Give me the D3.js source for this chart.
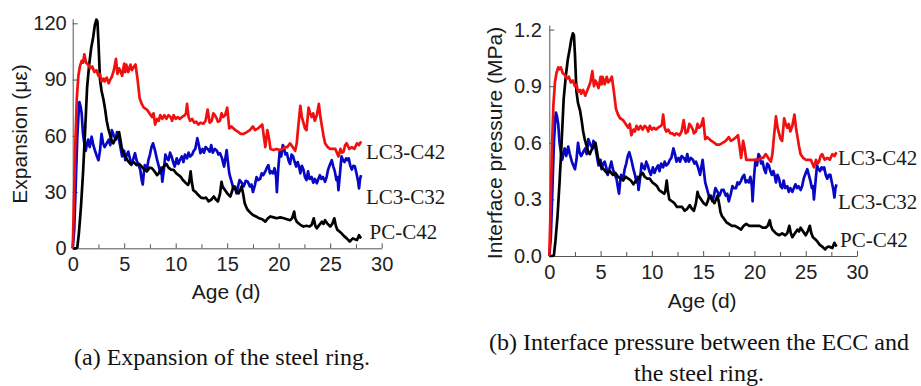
<!DOCTYPE html>
<html><head><meta charset="utf-8">
<script src="https://cdn.jsdelivr.net/npm/d3@7/dist/d3.min.js"></script>
<style>
html,body{margin:0;padding:0;background:#fff;}
svg{display:block;}
.tick text{font-family:"Liberation Sans",Arial,sans-serif;font-size:20px;fill:#222;}
.domain,.tick line{stroke:#555;stroke-width:1;}
</style></head>
<body>
<svg id="chart" width="921" height="386"></svg>
<script>
// ---------- DATA ----------
const seriesNames = ["LC3-C42", "LC3-C32", "PC-C42"];
const xTicks = [0, 5, 10, 15, 20, 25, 30];
const xMinorTicks = [2.5, 7.5, 12.5, 17.5, 22.5, 27.5];
const yTicksA = [0, 30, 60, 90, 120];
const yTickLabelsA = ["0", "30", "60", "90", "120"];
const yTicksB = [0, 0.3, 0.6, 0.9, 1.2];
const yTickLabelsB = ["0.0", "0.3", "0.6", "0.9", "1.2"];

// (a) expansion, [age (d), expansion (µε)]
const expLC3C42 = [[0,0],[0.1,20],[0.25,55],[0.4,80],[0.55,92],[0.7,97],[0.87,100],[1.0,99],[1.13,103.5],[1.3,99],[1.5,98],[1.7,96],[1.9,97],[2.1,94],[2.3,95],[2.5,92],[2.65,93],[2.8,89],[3.0,90.5],[3.1,89],[3.3,91],[3.5,88],[3.65,90],[3.8,91.5],[4.0,95],[4.2,101],[4.35,93],[4.5,96],[4.6,95],[4.8,92],[5.0,98.5],[5.1,94],[5.2,98],[5.4,94],[5.6,98],[5.75,95],[5.9,96.5],[6.1,98],[6.3,90],[6.5,80],[6.7,77],[6.9,75],[7.2,74],[7.45,72],[7.7,70],[7.85,72],[8.0,66],[8.2,69],[8.35,68],[8.5,71],[8.7,69],[8.9,71],[9.1,69],[9.3,71],[9.5,70],[9.65,68],[9.8,71],[10.0,69],[10.2,70],[10.4,69],[10.6,70],[10.9,71],[11.0,72],[11.1,77],[11.25,70],[11.4,68],[11.6,69],[11.8,67],[12.0,67.5],[12.2,66],[12.4,67],[12.7,66.5],[12.9,68],[13.1,74],[13.3,67],[13.5,68],[13.65,72],[13.8,71],[14.0,69],[14.1,67.5],[14.3,68],[14.45,72],[14.6,70],[14.8,71],[15.0,75],[15.2,64],[15.4,65],[15.6,64],[15.8,63],[16.1,62],[16.3,61],[16.6,61],[16.9,62],[17.2,63],[17.5,65],[17.7,63],[18.0,64],[18.2,65],[18.4,66],[18.5,62],[18.7,54],[18.9,63],[19.05,59],[19.2,53],[19.5,52.4],[19.8,53],[20.1,52.4],[20.4,53],[20.6,54],[20.85,54],[21.1,56],[21.35,54],[21.6,52],[21.75,56],[21.9,65],[22.1,76],[22.25,70],[22.4,67],[22.55,64],[22.7,63],[22.9,75],[23.05,72],[23.2,70],[23.35,72],[23.5,68],[23.7,71],[23.9,77],[24.05,70],[24.2,65],[24.35,60],[24.5,56],[24.75,54],[25.0,53],[25.25,53],[25.5,53],[25.65,51],[25.8,49],[26.0,53],[26.15,51],[26.3,51.5],[26.45,55],[26.6,56],[26.85,53],[27.1,54],[27.35,53],[27.6,56],[27.8,55],[28.0,57]];
const expLC3C32 = [[0,0],[0.15,10],[0.3,35],[0.45,60],[0.6,75],[0.65,78],[0.75,76],[0.87,72],[1.0,61],[1.1,57],[1.26,52],[1.4,56],[1.5,58],[1.65,54],[1.84,59.5],[2.0,55],[2.2,51.5],[2.35,49],[2.5,47],[2.65,52],[2.8,61],[2.95,56],[3.1,54],[3.3,56],[3.5,58],[3.65,55],[3.8,63],[4.0,60],[4.2,58],[4.3,62],[4.4,61],[4.6,55],[4.8,49],[5.0,52],[5.1,47],[5.25,50],[5.4,51.5],[5.55,48],[5.7,44.4],[5.9,48],[6.05,50.7],[6.2,47],[6.4,44.4],[6.55,42],[6.7,36.4],[6.8,34],[6.9,40],[7.0,44.4],[7.2,42],[7.35,47],[7.5,50],[7.65,54],[7.8,56],[8.0,52],[8.2,47],[8.35,44],[8.5,40],[8.6,43],[8.7,35.5],[8.85,42],[9.0,50],[9.15,48],[9.3,47],[9.45,51],[9.6,49],[9.75,46],[9.9,43.6],[10.1,48],[10.25,45],[10.4,47],[10.6,49],[10.75,46],[10.9,50],[11.1,48],[11.25,51],[11.4,49],[11.6,50],[11.75,52],[11.9,53],[12.1,58.7],[12.25,55],[12.4,50.7],[12.6,53],[12.75,51],[12.9,54],[13.1,53],[13.3,51.5],[13.45,55],[13.6,51],[13.8,53],[14.0,52],[14.15,50],[14.3,50.7],[14.5,48],[14.7,43.6],[14.85,49],[14.95,52.4],[15.05,47],[15.2,40],[15.4,36],[15.6,32],[15.75,33],[15.9,29.3],[16.05,33],[16.2,36.4],[16.4,35],[16.6,33],[16.8,36],[17.0,35.5],[17.2,33],[17.35,34],[17.5,30],[17.7,34],[17.85,38],[18.0,36.4],[18.2,37],[18.35,40],[18.5,39],[18.7,41],[18.85,43],[19.0,44.4],[19.15,40],[19.3,41],[19.45,40],[19.6,42.7],[19.75,38],[19.82,30],[19.95,42],[20.1,52],[20.25,49],[20.4,55],[20.5,54],[20.65,50],[20.8,50.7],[20.95,47],[21.1,45],[21.25,50],[21.4,49],[21.55,46],[21.7,43.6],[21.85,46],[22.0,43],[22.1,40],[22.25,44],[22.4,42],[22.55,38],[22.7,36.4],[22.85,41],[23.0,37],[23.2,38],[23.35,35],[23.5,37],[23.7,34.7],[23.85,37],[24.0,39],[24.15,37],[24.3,38],[24.5,35.5],[24.65,38],[24.8,42],[25.0,45],[25.15,47],[25.3,43.6],[25.45,41],[25.6,36.4],[25.72,38],[25.8,31],[25.95,40],[26.1,49],[26.25,47],[26.4,46],[26.55,48],[26.7,47],[26.8,48],[26.95,44],[27.1,42],[27.25,44],[27.4,43.6],[27.55,40],[27.7,36],[27.8,32],[27.9,37],[28.0,39]];
const expPCC42 = [[0,0],[0.3,0],[0.45,0.5],[0.6,8],[0.8,22],[1.0,40],[1.2,62],[1.4,86],[1.6,98],[1.8,107],[2.0,113],[2.15,119],[2.3,122],[2.4,121],[2.5,110],[2.65,90],[2.8,84],[3.0,79],[3.15,74],[3.3,68],[3.45,64],[3.6,61],[3.8,57],[3.95,56],[4.1,58],[4.3,59.5],[4.5,62],[4.6,59],[4.75,54],[4.9,51],[5.1,49],[5.3,47],[5.6,45],[5.9,46],[6.2,44.4],[6.45,45],[6.7,43.6],[6.95,42],[7.2,41],[7.45,43],[7.7,42.7],[7.95,41],[8.2,39],[8.45,41],[8.7,42.7],[8.9,44],[9.1,45],[9.3,43],[9.55,42],[9.8,41.8],[10.05,40],[10.3,39],[10.5,38],[10.7,36.4],[10.95,35],[11.2,33.8],[11.3,35],[11.45,41],[11.55,36],[11.7,31],[11.95,30],[12.2,28.4],[12.45,27],[12.7,26.7],[12.95,27],[13.2,25],[13.45,26],[13.7,27.6],[13.9,26],[14.1,25],[14.3,29],[14.45,35.5],[14.55,33],[14.8,31],[15.05,29],[15.3,27.6],[15.45,30],[15.6,33],[15.85,31],[16.1,29.3],[16.25,31],[16.4,33],[16.55,29],[16.7,24],[16.85,22],[17.0,20.4],[17.25,19],[17.5,17.8],[17.8,17],[18.1,16],[18.4,15.5],[18.7,14.2],[18.95,16],[19.2,17],[19.5,16.5],[19.8,16],[20.15,16.5],[20.5,16],[20.8,15.5],[21.1,15],[21.3,16],[21.5,19.6],[21.6,16],[21.75,14.2],[22.1,12.5],[22.4,11.6],[22.7,12],[23.0,11.6],[23.2,12.5],[23.4,16],[23.55,12],[23.7,10.7],[23.95,12.5],[24.2,14.2],[24.35,13],[24.5,15],[24.75,13],[25.0,11.6],[25.2,13],[25.4,16],[25.55,12],[25.7,9.8],[25.9,9],[26.1,8],[26.35,6.5],[26.6,5.3],[26.9,3.6],[27.05,4.5],[27.2,5.3],[27.4,4.8],[27.6,4.4],[27.8,7],[27.9,6],[28.0,5.3]];

// (b) interface pressure, [age (d), pressure (MPa)]
const presLC3C42 = [[0,0],[0.1,0.2],[0.25,0.55],[0.4,0.8],[0.55,0.92],[0.7,0.97],[0.87,1.0],[1.0,0.99],[1.13,1.0],[1.3,0.97],[1.5,0.96],[1.7,0.94],[1.9,0.95],[2.1,0.92],[2.3,0.93],[2.5,0.9],[2.65,0.91],[2.8,0.87],[3.0,0.88],[3.1,0.86],[3.3,0.88],[3.5,0.85],[3.65,0.87],[3.8,0.89],[4.0,0.92],[4.2,0.98],[4.35,0.9],[4.5,0.93],[4.6,0.92],[4.8,0.89],[5.0,0.95],[5.1,0.91],[5.2,0.95],[5.4,0.91],[5.6,0.95],[5.75,0.92],[5.9,0.93],[6.1,0.95],[6.3,0.87],[6.5,0.78],[6.7,0.75],[6.9,0.73],[7.2,0.72],[7.45,0.7],[7.7,0.68],[7.85,0.7],[8.0,0.64],[8.2,0.67],[8.35,0.66],[8.5,0.69],[8.7,0.67],[8.9,0.69],[9.1,0.67],[9.3,0.69],[9.5,0.68],[9.65,0.66],[9.8,0.69],[10.0,0.67],[10.2,0.68],[10.4,0.67],[10.6,0.68],[10.9,0.69],[11.0,0.7],[11.1,0.75],[11.25,0.68],[11.4,0.66],[11.6,0.67],[11.8,0.65],[12.0,0.65],[12.2,0.64],[12.4,0.65],[12.7,0.64],[12.9,0.66],[13.1,0.72],[13.3,0.65],[13.5,0.66],[13.65,0.7],[13.8,0.69],[14.0,0.67],[14.1,0.65],[14.3,0.66],[14.45,0.7],[14.6,0.68],[14.8,0.69],[15.0,0.73],[15.2,0.62],[15.4,0.63],[15.6,0.62],[15.8,0.61],[16.1,0.6],[16.3,0.59],[16.6,0.59],[16.9,0.6],[17.2,0.61],[17.5,0.63],[17.7,0.61],[18.0,0.62],[18.2,0.63],[18.4,0.64],[18.5,0.6],[18.7,0.52],[18.9,0.61],[19.05,0.57],[19.2,0.51],[19.5,0.51],[19.8,0.51],[20.1,0.51],[20.4,0.51],[20.6,0.52],[20.85,0.52],[21.1,0.54],[21.35,0.52],[21.6,0.5],[21.75,0.54],[21.9,0.63],[22.1,0.74],[22.25,0.68],[22.4,0.65],[22.55,0.62],[22.7,0.61],[22.9,0.73],[23.05,0.7],[23.2,0.68],[23.35,0.7],[23.5,0.66],[23.7,0.69],[23.9,0.75],[24.05,0.68],[24.2,0.63],[24.35,0.58],[24.5,0.54],[24.75,0.52],[25.0,0.51],[25.25,0.51],[25.5,0.51],[25.65,0.49],[25.8,0.47],[26.0,0.51],[26.15,0.49],[26.3,0.5],[26.45,0.53],[26.6,0.54],[26.85,0.51],[27.1,0.52],[27.35,0.51],[27.6,0.54],[27.8,0.53],[28.0,0.55]];
const presLC3C32 = [[0,0],[0.15,0.1],[0.3,0.35],[0.45,0.6],[0.6,0.74],[0.65,0.76],[0.75,0.74],[0.87,0.7],[1.0,0.6],[1.1,0.56],[1.26,0.51],[1.4,0.55],[1.5,0.57],[1.65,0.53],[1.84,0.58],[2.0,0.54],[2.2,0.5],[2.35,0.48],[2.5,0.46],[2.65,0.51],[2.8,0.6],[2.95,0.55],[3.1,0.53],[3.3,0.55],[3.5,0.57],[3.65,0.54],[3.8,0.62],[4.0,0.59],[4.2,0.57],[4.3,0.61],[4.4,0.6],[4.6,0.54],[4.8,0.48],[5.0,0.51],[5.1,0.46],[5.25,0.49],[5.4,0.5],[5.55,0.47],[5.7,0.43],[5.9,0.47],[6.05,0.5],[6.2,0.46],[6.4,0.43],[6.55,0.41],[6.7,0.36],[6.8,0.33],[6.9,0.39],[7.0,0.43],[7.2,0.41],[7.35,0.46],[7.5,0.49],[7.65,0.53],[7.8,0.55],[8.0,0.51],[8.2,0.46],[8.35,0.43],[8.5,0.39],[8.6,0.42],[8.7,0.35],[8.85,0.41],[9.0,0.49],[9.15,0.47],[9.3,0.46],[9.45,0.5],[9.6,0.48],[9.75,0.45],[9.9,0.43],[10.1,0.47],[10.25,0.44],[10.4,0.46],[10.6,0.48],[10.75,0.45],[10.9,0.49],[11.1,0.47],[11.25,0.5],[11.4,0.48],[11.6,0.49],[11.75,0.51],[11.9,0.52],[12.1,0.57],[12.25,0.54],[12.4,0.5],[12.6,0.52],[12.75,0.5],[12.9,0.53],[13.1,0.52],[13.3,0.5],[13.45,0.54],[13.6,0.5],[13.8,0.52],[14.0,0.51],[14.15,0.49],[14.3,0.5],[14.5,0.47],[14.7,0.43],[14.85,0.48],[14.95,0.51],[15.05,0.46],[15.2,0.39],[15.4,0.35],[15.6,0.31],[15.75,0.32],[15.9,0.29],[16.05,0.32],[16.2,0.36],[16.4,0.34],[16.6,0.32],[16.8,0.35],[17.0,0.35],[17.2,0.32],[17.35,0.33],[17.5,0.29],[17.7,0.33],[17.85,0.37],[18.0,0.36],[18.2,0.36],[18.35,0.39],[18.5,0.38],[18.7,0.4],[18.85,0.42],[19.0,0.43],[19.15,0.39],[19.3,0.4],[19.45,0.39],[19.6,0.42],[19.75,0.37],[19.82,0.29],[19.95,0.41],[20.1,0.51],[20.25,0.48],[20.4,0.54],[20.5,0.53],[20.65,0.49],[20.8,0.5],[20.95,0.46],[21.1,0.44],[21.25,0.49],[21.4,0.48],[21.55,0.45],[21.7,0.43],[21.85,0.45],[22.0,0.42],[22.1,0.39],[22.25,0.43],[22.4,0.41],[22.55,0.37],[22.7,0.36],[22.85,0.4],[23.0,0.36],[23.2,0.37],[23.35,0.34],[23.5,0.36],[23.7,0.34],[23.85,0.36],[24.0,0.38],[24.15,0.36],[24.3,0.37],[24.5,0.35],[24.65,0.37],[24.8,0.41],[25.0,0.44],[25.15,0.46],[25.3,0.43],[25.45,0.4],[25.6,0.36],[25.72,0.37],[25.8,0.3],[25.95,0.39],[26.1,0.48],[26.25,0.46],[26.4,0.45],[26.55,0.47],[26.7,0.46],[26.8,0.47],[26.95,0.43],[27.1,0.41],[27.25,0.43],[27.4,0.43],[27.55,0.39],[27.7,0.35],[27.8,0.31],[27.9,0.36],[28.0,0.38]];
const presPCC42 = [[0,0],[0.3,0],[0.45,0.005],[0.6,0.08],[0.8,0.21],[1.0,0.39],[1.2,0.6],[1.4,0.83],[1.6,0.95],[1.8,1.04],[2.0,1.1],[2.15,1.15],[2.3,1.18],[2.4,1.17],[2.5,1.07],[2.65,0.87],[2.8,0.81],[3.0,0.77],[3.15,0.72],[3.3,0.66],[3.45,0.62],[3.6,0.59],[3.8,0.55],[3.95,0.54],[4.1,0.56],[4.3,0.58],[4.5,0.6],[4.6,0.57],[4.75,0.52],[4.9,0.49],[5.1,0.47],[5.3,0.46],[5.6,0.44],[5.9,0.45],[6.2,0.43],[6.45,0.44],[6.7,0.42],[6.95,0.41],[7.2,0.4],[7.45,0.42],[7.7,0.41],[7.95,0.4],[8.2,0.38],[8.45,0.4],[8.7,0.41],[8.9,0.43],[9.1,0.44],[9.3,0.42],[9.55,0.41],[9.8,0.41],[10.05,0.39],[10.3,0.38],[10.5,0.37],[10.7,0.35],[10.95,0.34],[11.2,0.33],[11.3,0.34],[11.45,0.4],[11.55,0.35],[11.7,0.3],[11.95,0.29],[12.2,0.28],[12.45,0.26],[12.7,0.26],[12.95,0.26],[13.2,0.24],[13.45,0.25],[13.7,0.27],[13.9,0.25],[14.1,0.24],[14.3,0.28],[14.45,0.34],[14.55,0.32],[14.8,0.3],[15.05,0.28],[15.3,0.27],[15.45,0.29],[15.6,0.32],[15.85,0.3],[16.1,0.28],[16.25,0.3],[16.4,0.32],[16.55,0.28],[16.7,0.23],[16.85,0.21],[17.0,0.2],[17.25,0.18],[17.5,0.17],[17.8,0.16],[18.1,0.16],[18.4,0.15],[18.7,0.14],[18.95,0.16],[19.2,0.17],[19.5,0.16],[19.8,0.16],[20.15,0.16],[20.5,0.16],[20.8,0.15],[21.1,0.15],[21.3,0.16],[21.5,0.19],[21.6,0.16],[21.75,0.14],[22.1,0.12],[22.4,0.11],[22.7,0.12],[23.0,0.11],[23.2,0.12],[23.4,0.16],[23.55,0.12],[23.7,0.1],[23.95,0.12],[24.2,0.14],[24.35,0.13],[24.5,0.15],[24.75,0.13],[25.0,0.11],[25.2,0.13],[25.4,0.16],[25.55,0.12],[25.7,0.1],[25.9,0.09],[26.1,0.08],[26.35,0.06],[26.6,0.05],[26.9,0.035],[27.05,0.045],[27.2,0.05],[27.4,0.047],[27.6,0.043],[27.8,0.07],[27.9,0.06],[28.0,0.05]];

// ---------- DRAW ----------
const colors = {"LC3-C42": "#f01010", "LC3-C32": "#0808c4", "PC-C42": "#000000"};
const svg = d3.select("#chart");

const panels = [
  {x0: 72.7, x1: 381.7, y0: 248.3, y1: 23.3, yMax: 120, yTicks: yTicksA, yLabels: yTickLabelsA,
   series: {"LC3-C42": expLC3C42, "LC3-C32": expLC3C32, "PC-C42": expPCC42},
   yTitle: "Expansion (\u03bc\u03b5)", yTitleX: 27, yTitleY: 134, xTitleY: 299, yPad: 6, xPad: 8.5,
   labelX: 366, labelY: [158.5, 204, 238.5], labelDx: [0, 0, 3.5],
   caption: ["(a) Expansion of the steel ring."], capX: 222, capY: [365]},
  {x0: 549.3, x1: 857, y0: 256, y1: 29.6, yMax: 1.2, yTicks: yTicksB, yLabels: yTickLabelsB,
   series: {"LC3-C42": presLC3C42, "LC3-C32": presLC3C32, "PC-C42": presPCC42},
   yTitle: "Interface pressure (MPa)", yTitleX: 502, yTitleY: 143, xTitleY: 308, yPad: 7.5, xPad: 8.5,
   labelX: 838, labelY: [165, 208.5, 246.5], labelDx: [0, 0, 2],
   caption: ["(b) Interface pressure between the ECC and", "the steel ring."], capX: 699, capY: [349.5, 381]}
];

panels.forEach(p => {
  const x = d3.scaleLinear().domain([0, 30]).range([p.x0, p.x1]);
  const y = d3.scaleLinear().domain([0, p.yMax]).range([p.y0, p.y1]);
  const g = svg.append("g");

  // minor x ticks
  g.append("g").attr("transform", `translate(0,${p.y0})`)
    .call(d3.axisBottom(x).tickValues(xMinorTicks).tickSizeInner(-4).tickSizeOuter(0).tickFormat(""))
    .call(a => a.select(".domain").remove());
  // major x axis
  g.append("g").attr("transform", `translate(0,${p.y0})`)
    .call(d3.axisBottom(x).tickValues(xTicks).tickSizeInner(-5).tickSizeOuter(0).tickPadding(p.xPad).tickFormat(d3.format("d")));
  // y axis
  g.append("g").attr("transform", `translate(${p.x0},0)`)
    .call(d3.axisLeft(y).tickValues(p.yTicks).tickSizeInner(-5).tickSizeOuter(0).tickPadding(p.yPad)
      .tickFormat((d, i) => p.yLabels[i]))
    .call(a => a.select(".domain").attr("d", `M0.5,${p.y0}V${p.y1 - 4}`));

  // lines
  const line = d3.line().x(d => x(d[0])).y(d => y(d[1]));
  ["LC3-C32", "PC-C42", "LC3-C42"].forEach(name => {
    g.append("path").datum(p.series[name])
      .attr("fill", "none").attr("stroke", colors[name])
      .attr("stroke-width", 2.7).attr("stroke-linejoin", "round")
      .attr("d", line);
  });

  // series labels
  seriesNames.forEach((name, i) => {
    g.append("text").attr("x", p.labelX + p.labelDx[i]).attr("y", p.labelY[i])
      .attr("font-family", "'Liberation Serif','Times New Roman',serif")
      .attr("font-size", 21).attr("fill", "#1a1a1a").text(name);
  });

  // axis titles
  g.append("text").attr("x", (p.x0 + p.x1) / 2 - 1).attr("y", p.xTitleY)
    .attr("text-anchor", "middle")
    .attr("font-family", "'Liberation Sans',Arial,sans-serif").attr("font-size", 21).attr("fill", "#1a1a1a")
    .text("Age (d)");
  g.append("text").attr("transform", `translate(${p.yTitleX},${p.yTitleY}) rotate(-90)`)
    .attr("text-anchor", "middle")
    .attr("font-family", "'Liberation Sans',Arial,sans-serif").attr("font-size", 21).attr("fill", "#1a1a1a")
    .text(p.yTitle);

  // caption
  p.caption.forEach((t, i) => {
    g.append("text").attr("x", p.capX).attr("y", p.capY[i]).attr("text-anchor", "middle")
      .attr("font-family", "'Liberation Serif','Times New Roman',serif").attr("font-size", 24)
      .attr("fill", "#111").text(t);
  });
});
</script>
</body></html>
